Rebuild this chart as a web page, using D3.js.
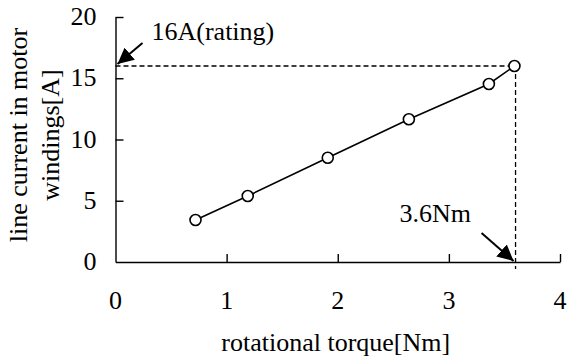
<!DOCTYPE html>
<html>
<head>
<meta charset="utf-8">
<script src="https://cdn.jsdelivr.net/npm/d3@7"></script>
<style>
  body { margin: 0; background: #fff; }
  text { font-family: "Liberation Serif", "Times New Roman", serif; fill: #000; }
</style>
</head>
<body>
<div id="chart"></div>
<script>
// measured points
const torque = [0.72, 1.19, 1.91, 2.64, 3.36, 3.59];
const current = [3.43, 5.39, 8.51, 11.65, 14.53, 16.0];
const xTicks = [0, 1, 2, 3, 4];
const yTicks = [0, 5, 10, 15, 20];
const ratedCurrent = 16;
const ratedTorque = 3.6;

const width = 567, height = 360;
const margin = { top: 17, right: 7, bottom: 98, left: 115.5 };

const svg = d3.select('#chart')
  .append('svg')
  .attr('width', width)
  .attr('height', height);

const x = d3.scaleLinear()
  .domain([0, 4])
  .range([margin.left, width - margin.right]);

const y = d3.scaleLinear()
  .domain([0, 20])
  .range([height - margin.bottom, margin.top]);

const data = torque.map((t, i) => ({ t: t, c: current[i] }));

// axes: ticks point inwards, labels drawn separately
svg.append('g')
  .attr('transform', 'translate(0,' + y(0) + ')')
  .call(d3.axisTop(x).tickValues(xTicks.slice(1)).tickSize(8).tickSizeOuter(0).tickFormat(''));
svg.append('g')
  .attr('transform', 'translate(' + x(0) + ',0)')
  .call(d3.axisRight(y).tickValues(yTicks.slice(1)).tickSize(8).tickSizeOuter(0).tickFormat(''));
svg.selectAll('.domain, .tick line').attr('stroke', '#000').attr('stroke-width', 1.4);

svg.selectAll('.xlab')
  .data(xTicks)
  .enter().append('text')
  .attr('x', d => x(d))
  .attr('y', y(0) + 47)
  .attr('text-anchor', 'middle')
  .style('font-size', '26px')
  .text(d => d);

svg.selectAll('.ylab')
  .data(yTicks)
  .enter().append('text')
  .attr('x', x(0) - 19)
  .attr('y', d => y(d) + 8)
  .attr('text-anchor', 'end')
  .style('font-size', '26px')
  .text(d => d);

// axis titles
svg.append('text')
  .attr('x', (x(0) + x(4)) / 2 - 2)
  .attr('y', 351)
  .attr('text-anchor', 'middle')
  .style('font-size', '26px')
  .text('rotational torque[Nm]');

const yTitle = svg.append('text')
  .attr('transform', 'translate(27,135) rotate(-90)')
  .attr('text-anchor', 'middle')
  .style('font-size', '26px');
yTitle.append('tspan').attr('x', 0).attr('dy', 0).text('line current in motor');
yTitle.append('tspan').attr('x', 0).attr('dy', 32).text('windings[A]');

// rating guide lines
svg.append('path')
  .attr('d', 'M' + x(0) + ',' + y(ratedCurrent) + 'H' + x(ratedTorque) + 'V' + (y(0) + 7))
  .attr('fill', 'none')
  .attr('stroke', '#000')
  .attr('stroke-width', 1.3)
  .attr('stroke-dasharray', '5,3');

// measured line and markers
svg.append('path')
  .datum(data)
  .attr('fill', 'none')
  .attr('stroke', '#000')
  .attr('stroke-width', 1.6)
  .attr('d', d3.line().x(d => x(d.t)).y(d => y(d.c)));

svg.selectAll('.pt')
  .data(data)
  .enter().append('circle')
  .attr('cx', d => x(d.t))
  .attr('cy', d => y(d.c))
  .attr('r', 5.5)
  .attr('fill', '#fff')
  .attr('stroke', '#000')
  .attr('stroke-width', 1.6);

// annotations with arrows
svg.append('defs').append('marker')
  .attr('id', 'head')
  .attr('viewBox', '0 0 10 10')
  .attr('refX', 10).attr('refY', 5)
  .attr('markerWidth', 16).attr('markerHeight', 16)
  .attr('markerUnits', 'userSpaceOnUse')
  .attr('orient', 'auto')
  .append('path')
  .attr('d', 'M0,0L10,5L0,10Z')
  .attr('fill', '#000');

const arrows = [
  { x1: x(0) + 27, y1: y(ratedCurrent) - 23, x2: x(0) + 2, y2: y(ratedCurrent) - 2 },
  { x1: x(ratedTorque) - 34, y1: y(0) - 29, x2: x(ratedTorque) - 2, y2: y(0) - 1 }
];
svg.selectAll('.arrow')
  .data(arrows)
  .enter().append('line')
  .attr('x1', d => d.x1).attr('y1', d => d.y1)
  .attr('x2', d => d.x2).attr('y2', d => d.y2)
  .attr('stroke', '#000')
  .attr('stroke-width', 2)
  .attr('marker-end', 'url(#head)');

svg.append('text')
  .attr('x', x(0) + 36)
  .attr('y', 40)
  .style('font-size', '26px')
  .text('16A(rating)');

svg.append('text')
  .attr('x', x(ratedTorque) - 116)
  .attr('y', 222)
  .style('font-size', '26px')
  .text('3.6Nm');
</script>
</body>
</html>
